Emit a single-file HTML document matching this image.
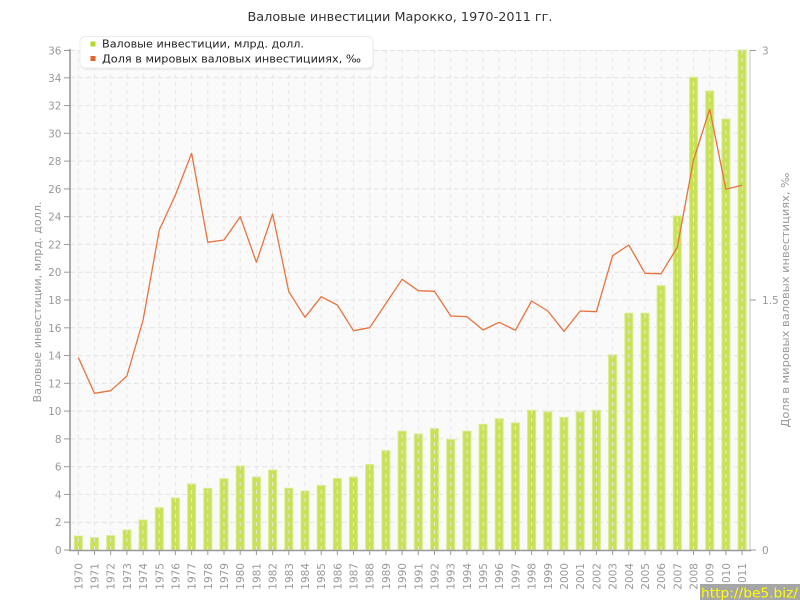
<!DOCTYPE html>
<html><head><meta charset="utf-8">
<style>
html,body{margin:0;padding:0;background:#fff;}
svg{display:block;}
text{font-family:"DejaVu Sans","Liberation Sans",sans-serif;}
</style></head>
<body>
<svg width="800" height="600" viewBox="0 0 800 600" xmlns="http://www.w3.org/2000/svg">
<rect x="0" y="0" width="800" height="600" fill="#fff"/>
<text x="400" y="21" text-anchor="middle" font-size="12" fill="#333" textLength="305" lengthAdjust="spacingAndGlyphs">Валовые инвестиции Марокко, 1970-2011 гг.</text>
<rect x="70" y="50" width="680" height="500" fill="#fafafa"/>
<g stroke="#e2e2e2" stroke-width="1" stroke-dasharray="5,3">
<line x1="70" y1="50.5" x2="750" y2="50.5"/>
<line x1="70" y1="77.8" x2="750" y2="77.8"/>
<line x1="70" y1="105.6" x2="750" y2="105.6"/>
<line x1="70" y1="133.3" x2="750" y2="133.3"/>
<line x1="70" y1="161.1" x2="750" y2="161.1"/>
<line x1="70" y1="188.9" x2="750" y2="188.9"/>
<line x1="70" y1="216.7" x2="750" y2="216.7"/>
<line x1="70" y1="244.4" x2="750" y2="244.4"/>
<line x1="70" y1="272.2" x2="750" y2="272.2"/>
<line x1="70" y1="300" x2="750" y2="300"/>
<line x1="70" y1="327.8" x2="750" y2="327.8"/>
<line x1="70" y1="355.6" x2="750" y2="355.6"/>
<line x1="70" y1="383.3" x2="750" y2="383.3"/>
<line x1="70" y1="411.1" x2="750" y2="411.1"/>
<line x1="70" y1="438.9" x2="750" y2="438.9"/>
<line x1="70" y1="466.7" x2="750" y2="466.7"/>
<line x1="70" y1="494.4" x2="750" y2="494.4"/>
<line x1="70" y1="522.2" x2="750" y2="522.2"/>
</g>
<g fill="#c8e157" stroke="#d8ec8c" stroke-width="1">
<rect x="74.3" y="536.1" width="8" height="13.9"/>
<rect x="90.5" y="537.6" width="8" height="12.4"/>
<rect x="106.7" y="535.7" width="8" height="14.3"/>
<rect x="122.9" y="530" width="8" height="20"/>
<rect x="139.1" y="520" width="8" height="30"/>
<rect x="155.3" y="507.6" width="8" height="42.4"/>
<rect x="171.4" y="498" width="8" height="52"/>
<rect x="187.6" y="484" width="8" height="66"/>
<rect x="203.8" y="488.3" width="8" height="61.7"/>
<rect x="220" y="478.7" width="8" height="71.3"/>
<rect x="236.2" y="466" width="8" height="84"/>
<rect x="252.4" y="477" width="8" height="73"/>
<rect x="268.6" y="470.1" width="8" height="79.9"/>
<rect x="284.8" y="488.2" width="8" height="61.8"/>
<rect x="301" y="491" width="8" height="59"/>
<rect x="317.2" y="485.4" width="8" height="64.6"/>
<rect x="333.3" y="478.5" width="8" height="71.5"/>
<rect x="349.5" y="477.1" width="8" height="72.9"/>
<rect x="365.7" y="464.6" width="8" height="85.4"/>
<rect x="381.9" y="450.7" width="8" height="99.3"/>
<rect x="398.1" y="431.2" width="8" height="118.8"/>
<rect x="414.3" y="434" width="8" height="116"/>
<rect x="430.5" y="428.5" width="8" height="121.5"/>
<rect x="446.7" y="439.6" width="8" height="110.4"/>
<rect x="462.9" y="431.2" width="8" height="118.8"/>
<rect x="479.1" y="424.3" width="8" height="125.7"/>
<rect x="495.2" y="418.7" width="8" height="131.3"/>
<rect x="511.4" y="422.9" width="8" height="127.1"/>
<rect x="527.6" y="410.4" width="8" height="139.6"/>
<rect x="543.8" y="411.8" width="8" height="138.2"/>
<rect x="560" y="417.4" width="8" height="132.6"/>
<rect x="576.2" y="411.8" width="8" height="138.2"/>
<rect x="592.4" y="410.4" width="8" height="139.6"/>
<rect x="608.6" y="354.9" width="8" height="195.1"/>
<rect x="624.8" y="313.2" width="8" height="236.8"/>
<rect x="641" y="313.2" width="8" height="236.8"/>
<rect x="657.1" y="285.7" width="8" height="264.3"/>
<rect x="673.3" y="216" width="8" height="334"/>
<rect x="689.5" y="77.3" width="8" height="472.7"/>
<rect x="705.7" y="91" width="8" height="459"/>
<rect x="721.9" y="119" width="8" height="431"/>
<rect x="738.1" y="50" width="8" height="500"/>
</g>
<g stroke="#e6e6e6" stroke-width="1" stroke-dasharray="4,4">
<line x1="78.3" y1="50" x2="78.3" y2="550"/>
<line x1="94.5" y1="50" x2="94.5" y2="550"/>
<line x1="110.7" y1="50" x2="110.7" y2="550"/>
<line x1="126.9" y1="50" x2="126.9" y2="550"/>
<line x1="143.1" y1="50" x2="143.1" y2="550"/>
<line x1="159.3" y1="50" x2="159.3" y2="550"/>
<line x1="175.4" y1="50" x2="175.4" y2="550"/>
<line x1="191.6" y1="50" x2="191.6" y2="550"/>
<line x1="207.8" y1="50" x2="207.8" y2="550"/>
<line x1="224" y1="50" x2="224" y2="550"/>
<line x1="240.2" y1="50" x2="240.2" y2="550"/>
<line x1="256.4" y1="50" x2="256.4" y2="550"/>
<line x1="272.6" y1="50" x2="272.6" y2="550"/>
<line x1="288.8" y1="50" x2="288.8" y2="550"/>
<line x1="305" y1="50" x2="305" y2="550"/>
<line x1="321.2" y1="50" x2="321.2" y2="550"/>
<line x1="337.3" y1="50" x2="337.3" y2="550"/>
<line x1="353.5" y1="50" x2="353.5" y2="550"/>
<line x1="369.7" y1="50" x2="369.7" y2="550"/>
<line x1="385.9" y1="50" x2="385.9" y2="550"/>
<line x1="402.1" y1="50" x2="402.1" y2="550"/>
<line x1="418.3" y1="50" x2="418.3" y2="550"/>
<line x1="434.5" y1="50" x2="434.5" y2="550"/>
<line x1="450.7" y1="50" x2="450.7" y2="550"/>
<line x1="466.9" y1="50" x2="466.9" y2="550"/>
<line x1="483.1" y1="50" x2="483.1" y2="550"/>
<line x1="499.2" y1="50" x2="499.2" y2="550"/>
<line x1="515.4" y1="50" x2="515.4" y2="550"/>
<line x1="531.6" y1="50" x2="531.6" y2="550"/>
<line x1="547.8" y1="50" x2="547.8" y2="550"/>
<line x1="564" y1="50" x2="564" y2="550"/>
<line x1="580.2" y1="50" x2="580.2" y2="550"/>
<line x1="596.4" y1="50" x2="596.4" y2="550"/>
<line x1="612.6" y1="50" x2="612.6" y2="550"/>
<line x1="628.8" y1="50" x2="628.8" y2="550"/>
<line x1="645" y1="50" x2="645" y2="550"/>
<line x1="661.1" y1="50" x2="661.1" y2="550"/>
<line x1="677.3" y1="50" x2="677.3" y2="550"/>
<line x1="693.5" y1="50" x2="693.5" y2="550"/>
<line x1="709.7" y1="50" x2="709.7" y2="550"/>
<line x1="725.9" y1="50" x2="725.9" y2="550"/>
<line x1="742.1" y1="50" x2="742.1" y2="550"/>
</g>
<polyline fill="none" stroke="#e8733f" stroke-width="1.3" stroke-linejoin="round" points="78.3,357.5 94.5,393.3 110.7,390.7 126.9,376 143.1,320 159.3,230 175.4,195 191.6,153.3 207.8,242.3 224,240 240.2,216.7 256.4,262.3 272.6,214 288.8,291.7 305,317.3 321.2,296.7 337.3,305 353.5,330.7 369.7,327.7 385.9,303.5 402.1,279.3 418.3,290.7 434.5,291.3 450.7,316 466.9,316.7 483.1,330 499.2,322.3 515.4,330.3 531.6,301 547.8,311 564,331.3 580.2,311 596.4,311.7 612.6,255.7 628.8,245 645,273.3 661.1,273.7 677.3,247.3 693.5,160 709.7,109.3 725.9,189.3 742.1,185.3"/>
<line x1="750" y1="50" x2="750" y2="550" stroke="#d8d8d8" stroke-width="1.5"/>
<line x1="70" y1="49" x2="70" y2="551" stroke="#999" stroke-width="1.6"/>
<line x1="69" y1="550.5" x2="751" y2="550.5" stroke="#999" stroke-width="1.4"/>
<g stroke="#999" stroke-width="1">
<line x1="64" y1="50.5" x2="70" y2="50.5"/>
<line x1="64" y1="77.8" x2="70" y2="77.8"/>
<line x1="64" y1="105.6" x2="70" y2="105.6"/>
<line x1="64" y1="133.3" x2="70" y2="133.3"/>
<line x1="64" y1="161.1" x2="70" y2="161.1"/>
<line x1="64" y1="188.9" x2="70" y2="188.9"/>
<line x1="64" y1="216.7" x2="70" y2="216.7"/>
<line x1="64" y1="244.4" x2="70" y2="244.4"/>
<line x1="64" y1="272.2" x2="70" y2="272.2"/>
<line x1="64" y1="300" x2="70" y2="300"/>
<line x1="64" y1="327.8" x2="70" y2="327.8"/>
<line x1="64" y1="355.6" x2="70" y2="355.6"/>
<line x1="64" y1="383.3" x2="70" y2="383.3"/>
<line x1="64" y1="411.1" x2="70" y2="411.1"/>
<line x1="64" y1="438.9" x2="70" y2="438.9"/>
<line x1="64" y1="466.7" x2="70" y2="466.7"/>
<line x1="64" y1="494.4" x2="70" y2="494.4"/>
<line x1="64" y1="522.2" x2="70" y2="522.2"/>
<line x1="64" y1="550" x2="70" y2="550"/>
<line x1="750" y1="50.5" x2="756" y2="50.5"/>
<line x1="750" y1="300" x2="756" y2="300"/>
<line x1="750" y1="550" x2="756" y2="550"/>
<line x1="78.3" y1="550" x2="78.3" y2="555"/>
<line x1="94.5" y1="550" x2="94.5" y2="555"/>
<line x1="110.7" y1="550" x2="110.7" y2="555"/>
<line x1="126.9" y1="550" x2="126.9" y2="555"/>
<line x1="143.1" y1="550" x2="143.1" y2="555"/>
<line x1="159.3" y1="550" x2="159.3" y2="555"/>
<line x1="175.4" y1="550" x2="175.4" y2="555"/>
<line x1="191.6" y1="550" x2="191.6" y2="555"/>
<line x1="207.8" y1="550" x2="207.8" y2="555"/>
<line x1="224" y1="550" x2="224" y2="555"/>
<line x1="240.2" y1="550" x2="240.2" y2="555"/>
<line x1="256.4" y1="550" x2="256.4" y2="555"/>
<line x1="272.6" y1="550" x2="272.6" y2="555"/>
<line x1="288.8" y1="550" x2="288.8" y2="555"/>
<line x1="305" y1="550" x2="305" y2="555"/>
<line x1="321.2" y1="550" x2="321.2" y2="555"/>
<line x1="337.3" y1="550" x2="337.3" y2="555"/>
<line x1="353.5" y1="550" x2="353.5" y2="555"/>
<line x1="369.7" y1="550" x2="369.7" y2="555"/>
<line x1="385.9" y1="550" x2="385.9" y2="555"/>
<line x1="402.1" y1="550" x2="402.1" y2="555"/>
<line x1="418.3" y1="550" x2="418.3" y2="555"/>
<line x1="434.5" y1="550" x2="434.5" y2="555"/>
<line x1="450.7" y1="550" x2="450.7" y2="555"/>
<line x1="466.9" y1="550" x2="466.9" y2="555"/>
<line x1="483.1" y1="550" x2="483.1" y2="555"/>
<line x1="499.2" y1="550" x2="499.2" y2="555"/>
<line x1="515.4" y1="550" x2="515.4" y2="555"/>
<line x1="531.6" y1="550" x2="531.6" y2="555"/>
<line x1="547.8" y1="550" x2="547.8" y2="555"/>
<line x1="564" y1="550" x2="564" y2="555"/>
<line x1="580.2" y1="550" x2="580.2" y2="555"/>
<line x1="596.4" y1="550" x2="596.4" y2="555"/>
<line x1="612.6" y1="550" x2="612.6" y2="555"/>
<line x1="628.8" y1="550" x2="628.8" y2="555"/>
<line x1="645" y1="550" x2="645" y2="555"/>
<line x1="661.1" y1="550" x2="661.1" y2="555"/>
<line x1="677.3" y1="550" x2="677.3" y2="555"/>
<line x1="693.5" y1="550" x2="693.5" y2="555"/>
<line x1="709.7" y1="550" x2="709.7" y2="555"/>
<line x1="725.9" y1="550" x2="725.9" y2="555"/>
<line x1="742.1" y1="550" x2="742.1" y2="555"/>
</g>
<g font-size="10.5" fill="#999" text-anchor="end">
<text x="61.5" y="54.5">36</text>
<text x="61.5" y="81.8">34</text>
<text x="61.5" y="109.6">32</text>
<text x="61.5" y="137.3">30</text>
<text x="61.5" y="165.1">28</text>
<text x="61.5" y="192.9">26</text>
<text x="61.5" y="220.7">24</text>
<text x="61.5" y="248.4">22</text>
<text x="61.5" y="276.2">20</text>
<text x="61.5" y="304">18</text>
<text x="61.5" y="331.8">16</text>
<text x="61.5" y="359.6">14</text>
<text x="61.5" y="387.3">12</text>
<text x="61.5" y="415.1">10</text>
<text x="61.5" y="442.9">8</text>
<text x="61.5" y="470.7">6</text>
<text x="61.5" y="498.4">4</text>
<text x="61.5" y="526.2">2</text>
<text x="61.5" y="554">0</text>
</g>
<g font-size="10.5" fill="#999">
<text x="762" y="54.5">3</text>
<text x="762" y="304">1.5</text>
<text x="762" y="554">0</text>
</g>
<g font-size="10.5" fill="#999" text-anchor="end">
<text transform="translate(82.3,563) rotate(-90)">1970</text>
<text transform="translate(98.5,563) rotate(-90)">1971</text>
<text transform="translate(114.7,563) rotate(-90)">1972</text>
<text transform="translate(130.9,563) rotate(-90)">1973</text>
<text transform="translate(147.1,563) rotate(-90)">1974</text>
<text transform="translate(163.3,563) rotate(-90)">1975</text>
<text transform="translate(179.4,563) rotate(-90)">1976</text>
<text transform="translate(195.6,563) rotate(-90)">1977</text>
<text transform="translate(211.8,563) rotate(-90)">1978</text>
<text transform="translate(228,563) rotate(-90)">1979</text>
<text transform="translate(244.2,563) rotate(-90)">1980</text>
<text transform="translate(260.4,563) rotate(-90)">1981</text>
<text transform="translate(276.6,563) rotate(-90)">1982</text>
<text transform="translate(292.8,563) rotate(-90)">1983</text>
<text transform="translate(309,563) rotate(-90)">1984</text>
<text transform="translate(325.2,563) rotate(-90)">1985</text>
<text transform="translate(341.3,563) rotate(-90)">1986</text>
<text transform="translate(357.5,563) rotate(-90)">1987</text>
<text transform="translate(373.7,563) rotate(-90)">1988</text>
<text transform="translate(389.9,563) rotate(-90)">1989</text>
<text transform="translate(406.1,563) rotate(-90)">1990</text>
<text transform="translate(422.3,563) rotate(-90)">1991</text>
<text transform="translate(438.5,563) rotate(-90)">1992</text>
<text transform="translate(454.7,563) rotate(-90)">1993</text>
<text transform="translate(470.9,563) rotate(-90)">1994</text>
<text transform="translate(487.1,563) rotate(-90)">1995</text>
<text transform="translate(503.2,563) rotate(-90)">1996</text>
<text transform="translate(519.4,563) rotate(-90)">1997</text>
<text transform="translate(535.6,563) rotate(-90)">1998</text>
<text transform="translate(551.8,563) rotate(-90)">1999</text>
<text transform="translate(568,563) rotate(-90)">2000</text>
<text transform="translate(584.2,563) rotate(-90)">2001</text>
<text transform="translate(600.4,563) rotate(-90)">2002</text>
<text transform="translate(616.6,563) rotate(-90)">2003</text>
<text transform="translate(632.8,563) rotate(-90)">2004</text>
<text transform="translate(649,563) rotate(-90)">2005</text>
<text transform="translate(665.1,563) rotate(-90)">2006</text>
<text transform="translate(681.3,563) rotate(-90)">2007</text>
<text transform="translate(697.5,563) rotate(-90)">2008</text>
<text transform="translate(713.7,563) rotate(-90)">2009</text>
<text transform="translate(729.9,563) rotate(-90)">2010</text>
<text transform="translate(746.1,563) rotate(-90)">2011</text>
</g>
<text transform="translate(41,302) rotate(-90)" text-anchor="middle" font-size="11" fill="#999" textLength="201" lengthAdjust="spacingAndGlyphs">Валовые инвестиции, млрд. долл.</text>
<text transform="translate(789,300) rotate(-90)" text-anchor="middle" font-size="11" fill="#999" textLength="255" lengthAdjust="spacingAndGlyphs">Доля в мировых валовых инвестициях, ‰</text>
<rect x="81" y="38" width="293" height="32" rx="5" fill="#000" opacity="0.06"/>
<rect x="80" y="36.5" width="293" height="31.5" rx="5" fill="#fff" stroke="#ececec" stroke-width="1"/>
<rect x="90.5" y="41.5" width="5" height="5" fill="#b5d92a"/>
<rect x="90.5" y="56" width="5" height="5" fill="#e8612c"/>
<text x="102" y="47.5" font-size="11" fill="#222" textLength="202" lengthAdjust="spacingAndGlyphs">Валовые инвестиции, млрд. долл.</text>
<text x="102" y="62.5" font-size="11" fill="#222" textLength="259" lengthAdjust="spacingAndGlyphs">Доля в мировых валовых инвестицииях, ‰</text>
<rect x="700" y="584" width="100" height="16" fill="#a6a6a6"/>
<text x="701" y="597.5" font-size="13" fill="#ffff00" textLength="97" lengthAdjust="spacingAndGlyphs">http://be5.biz/</text>
</svg>
</body></html>
